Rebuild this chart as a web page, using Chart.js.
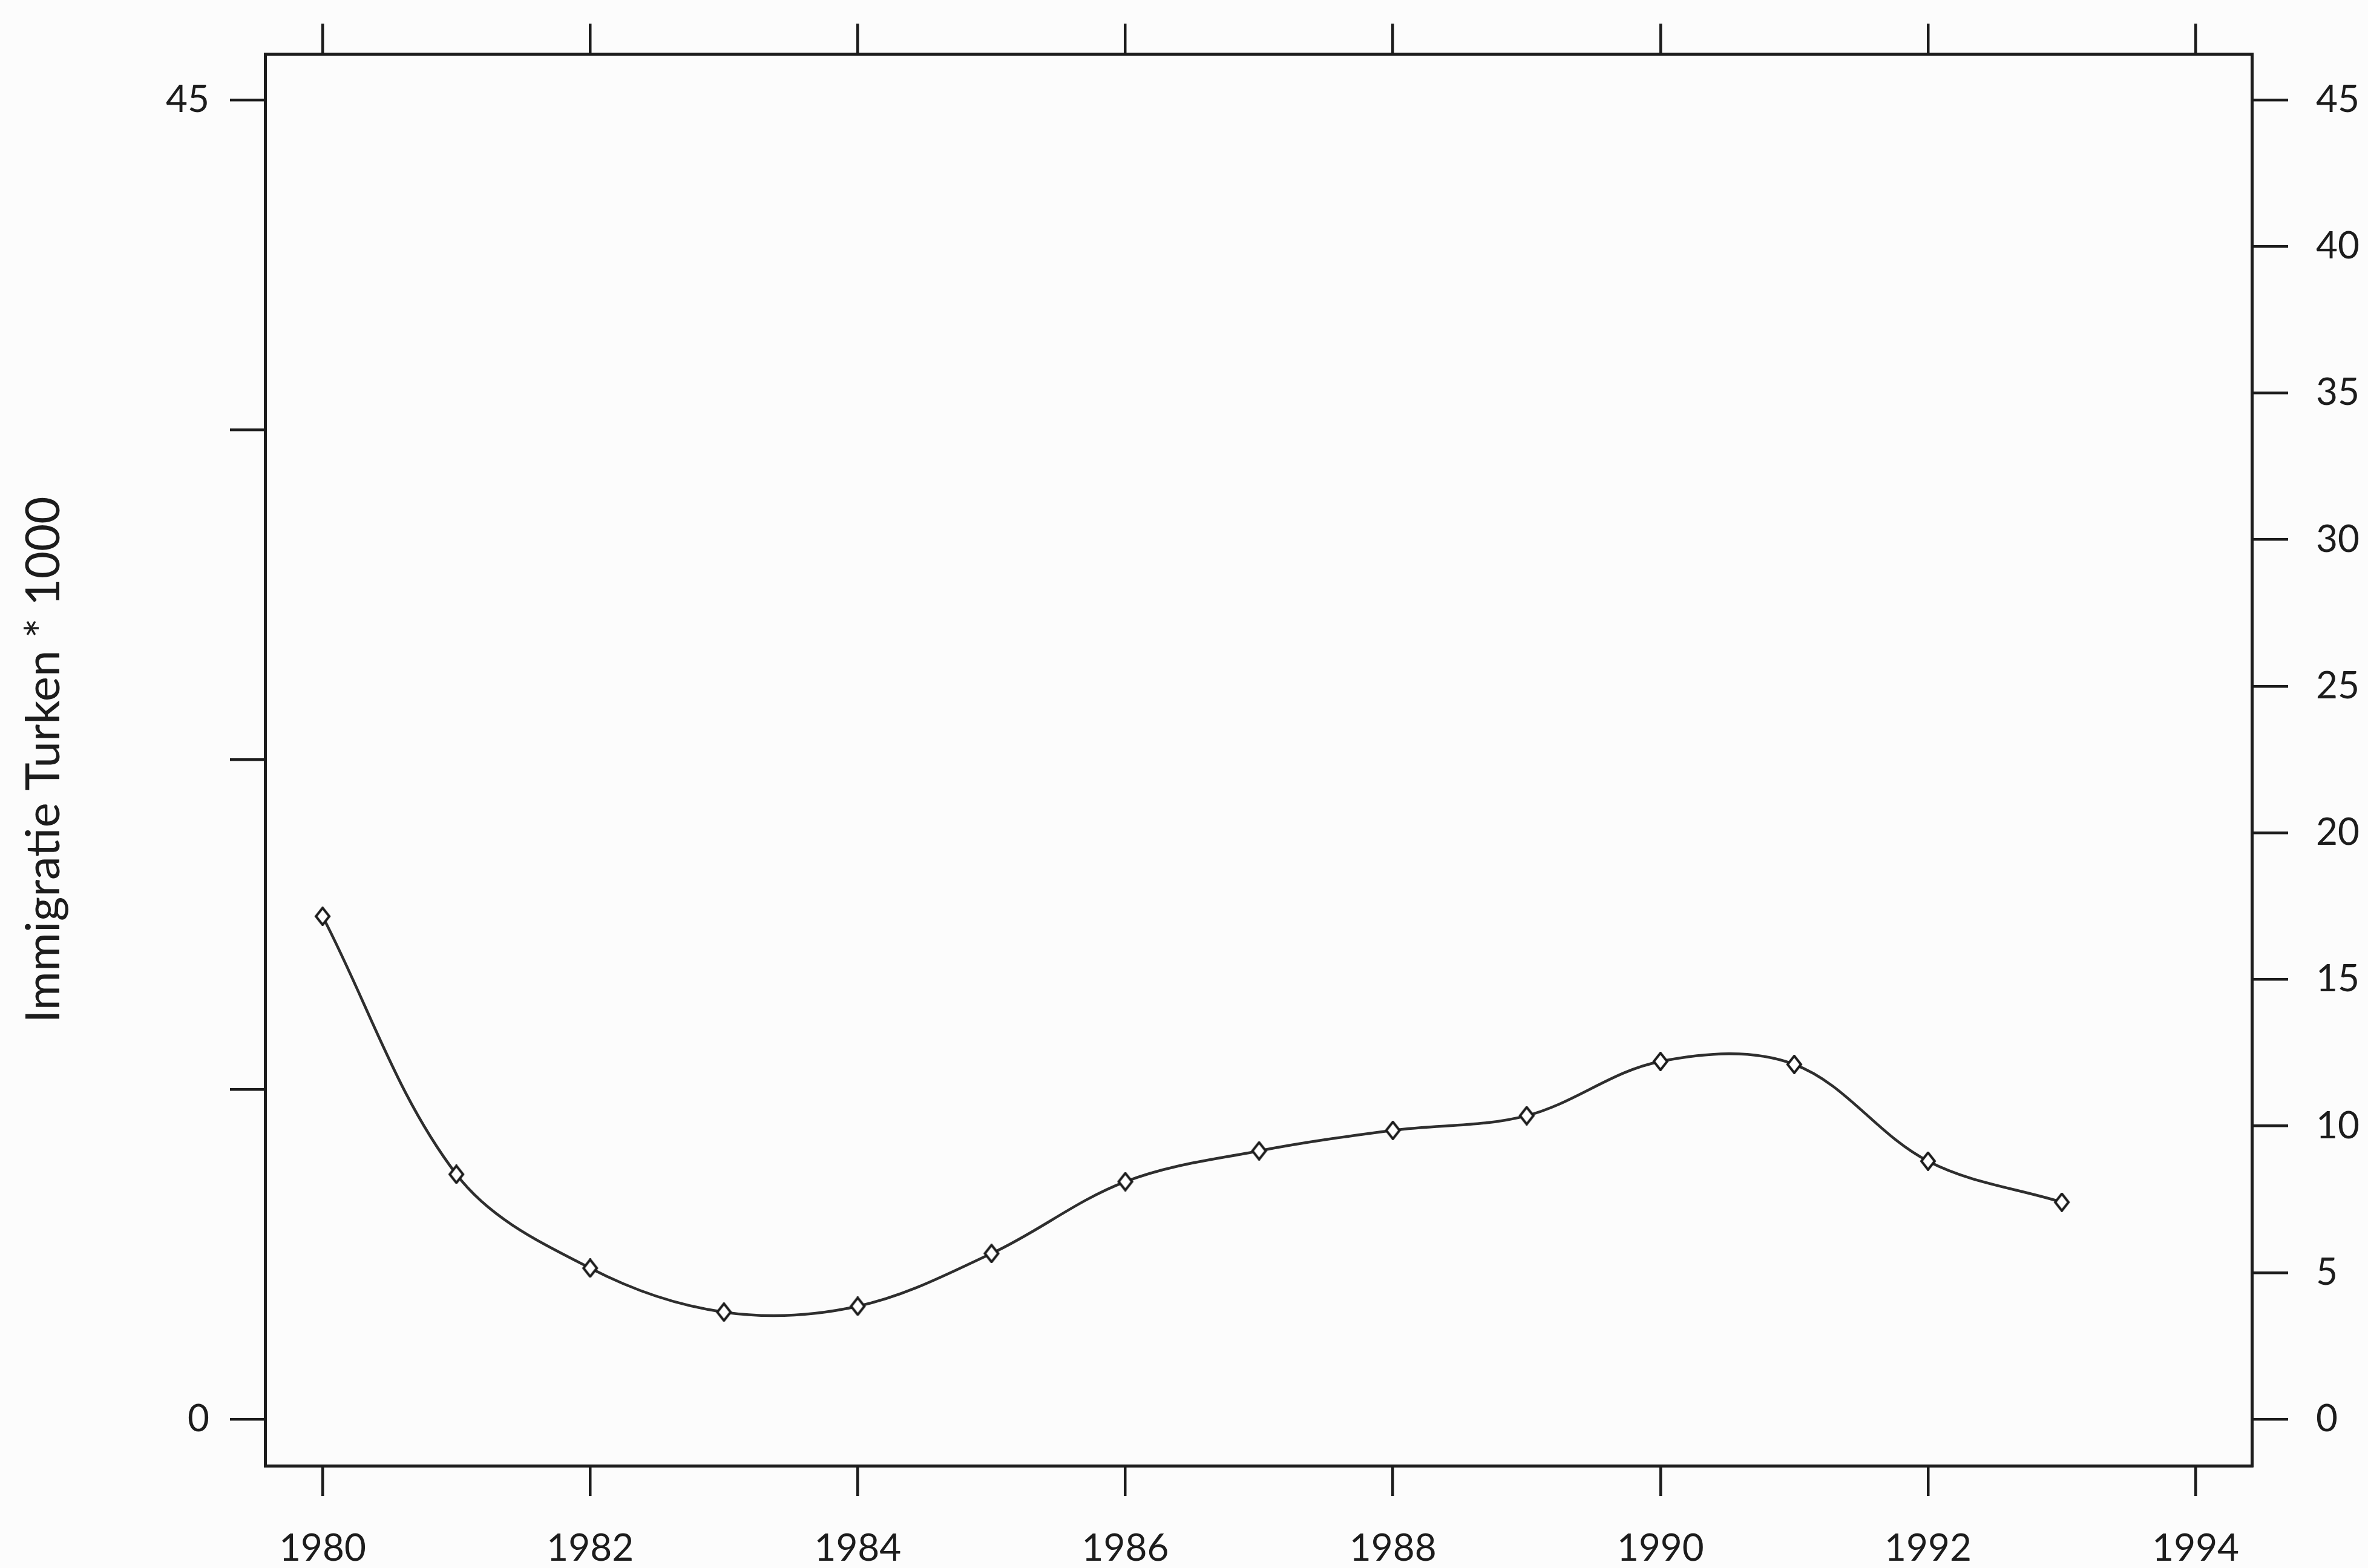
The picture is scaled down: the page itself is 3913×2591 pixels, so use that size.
<!DOCTYPE html>
<html>
<head>
<meta charset="utf-8">
<script src="https://cdn.jsdelivr.net/npm/chart.js@4.4.1/dist/chart.umd.min.js"></script>
<style>
  html, body { margin: 0; padding: 0; background: #fcfcfc; }
  canvas { display: block; }
</style>
</head>
<body>
<canvas id="myChart" width="3913" height="2591"></canvas>
<script>
// data
const years = [1980, 1981, 1982, 1983, 1984, 1985, 1986, 1987, 1988, 1989, 1990, 1991, 1992, 1993];
const immigratie = [17.15, 8.35, 5.15, 3.65, 3.85, 5.65, 8.1, 9.15, 9.85, 10.35, 12.2, 12.1, 8.8, 7.4];
const xTicks = [1980, 1982, 1984, 1986, 1988, 1990, 1992, 1994];
const leftTicks = [0, 11.25, 22.5, 33.75, 45];
const leftLabels = ['0', '', '', '', '45'];
const rightTicks = [0, 5, 10, 15, 20, 25, 30, 35, 40, 45];
const yTitle = 'Immigratie Turken * 1000';

const ink = '#1c1c1c';
const font = { family: 'Lato, "DejaVu Sans", sans-serif', size: 62 };

// hollow diamond marker
function diamond() {
  const c = document.createElement('canvas');
  c.width = 28; c.height = 32;
  const g = c.getContext('2d');
  g.beginPath();
  g.moveTo(14, 2); g.lineTo(25, 16); g.lineTo(14, 30); g.lineTo(3, 16); g.closePath();
  g.fillStyle = '#ffffff';
  g.fill();
  g.lineWidth = 4;
  g.strokeStyle = ink;
  g.stroke();
  return c;
}

function fixTicks(values) {
  return function (scale) {
    scale.ticks = values.map(function (v) { return { value: v }; });
  };
}

function axisGrid(len) {
  return { drawOnChartArea: false, drawTicks: true, tickLength: len, color: ink, lineWidth: 4.5 };
}
const border = { display: true, color: ink, width: 5 };

const bg = {
  id: 'bg',
  beforeDraw: function (chart) {
    const c = chart.ctx;
    c.save();
    c.fillStyle = '#fcfcfc';
    c.fillRect(0, 0, chart.width, chart.height);
    c.restore();
  }
};

const ctx = document.getElementById('myChart').getContext('2d');
const chart = new Chart(ctx, {
  type: 'line',
  data: {
    datasets: [{
      data: years.map(function (y, i) { return { x: y, y: immigratie[i] }; }),
      borderColor: '#2e2e2e',
      borderWidth: 4.5,
      tension: 0.35,
      pointStyle: diamond(),
      pointRadius: 12,
      fill: false
    }]
  },
  options: {
    responsive: false,
    devicePixelRatio: 1,
    animation: false,
    layout: { padding: 0 },
    plugins: { legend: { display: false }, tooltip: { enabled: false } },
    scales: {
      x: {
        type: 'linear', position: 'bottom', min: 1979.57, max: 1994.42,
        afterBuildTicks: fixTicks(xTicks),
        afterFit: function (s) { s.height = 169; },
        ticks: { font: font, color: ink, padding: 50, maxRotation: 0, callback: function (v) { return String(v); } },
        grid: axisGrid(50),
        border: border
      },
      x2: {
        type: 'linear', position: 'top', min: 1979.57, max: 1994.42,
        afterBuildTicks: fixTicks(xTicks),
        afterFit: function (s) { s.height = 89; },
        ticks: { display: false },
        grid: axisGrid(50),
        border: border
      },
      y: {
        type: 'linear', position: 'left', min: -1.59, max: 46.57,
        afterBuildTicks: fixTicks(leftTicks),
        afterFit: function (s) { s.width = 438; },
        ticks: {
          font: font, color: ink, padding: 34,
          callback: function (v) { return leftLabels[leftTicks.indexOf(v)]; }
        },
        grid: axisGrid(58),
        border: border,
        title: {
          display: true, text: yTitle, color: ink,
          font: { family: 'Lato, "DejaVu Sans", sans-serif', size: 78 },
          padding: { top: 26, bottom: 0 }
        }
      },
      y2: {
        type: 'linear', position: 'right', min: -1.59, max: 46.57,
        afterBuildTicks: fixTicks(rightTicks),
        afterFit: function (s) { s.width = 192; },
        ticks: { font: font, color: ink, padding: 46 },
        grid: axisGrid(60),
        border: border
      }
    }
  },
  plugins: [bg]
});
</script>
</body>
</html>
